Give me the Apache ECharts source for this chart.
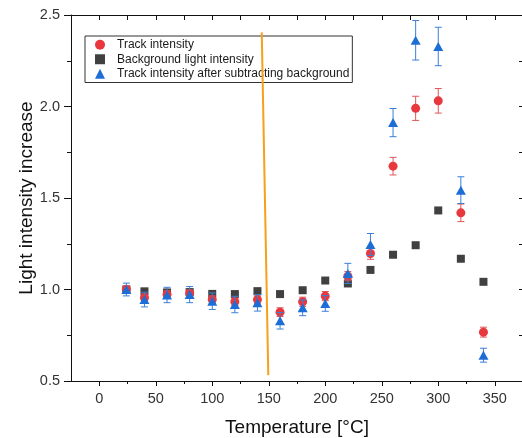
<!DOCTYPE html>
<html>
<head>
<meta charset="utf-8">
<script src="https://cdn.jsdelivr.net/npm/echarts@6/dist/echarts.min.js"></script>
<style>
html,body{margin:0;padding:0;background:#fff;}
#chart{width:522px;height:438px;}
</style>
</head>
<body>
<div id="chart"></div>
<script>
// ---- data ----
var temps = [24, 40, 60, 80, 100, 120, 140, 160, 180, 200, 220, 240, 260, 280, 300, 320, 340];
var trackIntensity = [1.00, 0.955, 0.973, 0.978, 0.945, 0.933, 0.945, 0.876, 0.933, 0.964, 1.073, 1.197, 1.674, 1.99, 2.031, 1.419, 0.767];
var trackErr = [0.02, 0.02, 0.02, 0.02, 0.02, 0.02, 0.02, 0.024, 0.025, 0.025, 0.025, 0.032, 0.048, 0.066, 0.067, 0.048, 0.027];
var backgroundIntensity = [1.00, 0.99, 0.984, 0.986, 0.976, 0.975, 0.991, 0.975, 0.996, 1.049, 1.033, 1.107, 1.19, 1.242, 1.432, 1.168, 1.042];
var backgroundErr = [0.008, 0.008, 0.008, 0.008, 0.008, 0.008, 0.008, 0.008, 0.008, 0.008, 0.008, 0.008, 0.008, 0.008, 0.013, 0.008, 0.008];
var subtractedIntensity = [1.00, 0.945, 0.97, 0.972, 0.936, 0.918, 0.927, 0.829, 0.90, 0.924, 1.088, 1.246, 1.912, 2.362, 2.328, 1.543, 0.641];
var subtractedErr = [0.035, 0.04, 0.042, 0.044, 0.045, 0.045, 0.045, 0.045, 0.043, 0.043, 0.055, 0.06, 0.077, 0.108, 0.105, 0.073, 0.038];
var markerLineX = [143.8, 149.6];
var markerLineY = [2.405, 0.532];
var xMajorTicks = [0, 50, 100, 150, 200, 250, 300, 350];
var xMinorTicks = [25, 75, 125, 175, 225, 275, 325];
var seriesNames = ['Track intensity', 'Background light intensity', 'Track intensity after subtracting background'];
var xTitle = 'Temperature [°C]';
var yTitle = 'Light intensity increase';

var FONT = '"Liberation Sans", Arial, sans-serif';
var RED = '#e8383d', BLACK = '#404040', BLUE = '#1c6ed6';

function pts(vals) { return temps.map(function (t, i) { return [t, vals[i]]; }); }
function errData(vals, errs) { return temps.map(function (t, i) { return [t, vals[i] - errs[i], vals[i] + errs[i]]; }); }

function errorBarSeries(vals, errs, color, z) {
  return {
    type: 'custom',
    xAxisIndex: 0, yAxisIndex: 0,
    z: z,
    silent: true,
    data: errData(vals, errs),
    encode: { x: 0, y: [1, 2] },
    renderItem: function (params, api) {
      var lo = api.coord([api.value(0), api.value(1)]);
      var hi = api.coord([api.value(0), api.value(2)]);
      var hw = 3.5;
      var st = { stroke: color, lineWidth: 1 };
      return {
        type: 'group',
        children: [
          { type: 'line', shape: { x1: lo[0], y1: lo[1], x2: hi[0], y2: hi[1] }, style: st },
          { type: 'line', shape: { x1: lo[0] - hw, y1: lo[1], x2: lo[0] + hw, y2: lo[1] }, style: st },
          { type: 'line', shape: { x1: hi[0] - hw, y1: hi[1], x2: hi[0] + hw, y2: hi[1] }, style: st }
        ]
      };
    }
  };
}

var chart = echarts.init(document.getElementById('chart'), null, { renderer: 'canvas' });
var option = {
  animation: false,
  backgroundColor: '#fff',
  grid: { left: 71, right: -1, top: 15, bottom: 57, containLabel: false, outerBoundsMode: 'none' },
  legend: {
    orient: 'vertical',
    left: 85, top: 36,
    padding: [2, 3, 2, 10],
    itemWidth: 10, itemHeight: 10, itemGap: 1,
    borderColor: '#333', borderWidth: 1, borderRadius: 0,
    textStyle: { fontFamily: FONT, fontSize: 12, color: '#1a1a1a', lineHeight: 13.5, padding: [0, 0, 0, 7] },
    data: [
      { name: seriesNames[0], icon: 'circle' },
      { name: seriesNames[1], icon: 'rect' },
      { name: seriesNames[2], icon: 'triangle' }
    ]
  },
  xAxis: [
    {
      type: 'value', position: 'bottom', min: -25, max: 375, interval: 25,
      name: xTitle, nameLocation: 'middle', nameGap: 37, nameMoveOverlap: false,
      nameTextStyle: { fontFamily: FONT, fontSize: 19, color: '#111' },
      axisLine: { show: true, onZero: false, lineStyle: { color: '#111', width: 1 } },
      axisTick: { show: true, length: 5, customValues: xMajorTicks, lineStyle: { color: '#111' } },
      axisLabel: { show: true, customValues: xMajorTicks, margin: 10, fontFamily: FONT, fontSize: 14.5, color: '#333' },
      splitLine: { show: false }
    },
    {
      type: 'value', position: 'bottom', min: -25, max: 375, interval: 25,
      axisLine: { show: false, onZero: false },
      axisTick: { show: true, length: 3, customValues: xMinorTicks, lineStyle: { color: '#111' } },
      axisLabel: { show: false },
      splitLine: { show: false }
    },
    {
      type: 'value', position: 'top', min: -25, max: 375, interval: 25,
      axisLine: { show: true, onZero: false, lineStyle: { color: '#111', width: 1 } },
      axisTick: { show: true, inside: true, length: 5, lineStyle: { color: '#111' } },
      axisLabel: { show: false },
      splitLine: { show: false }
    }
  ],
  yAxis: [
    {
      type: 'value', position: 'left', min: 0.5, max: 2.5, interval: 0.5,
      name: yTitle, nameLocation: 'middle', nameGap: 35, nameRotate: 90, nameMoveOverlap: false,
      nameTextStyle: { fontFamily: FONT, fontSize: 19, color: '#111' },
      axisLine: { show: true, onZero: false, lineStyle: { color: '#111', width: 1 } },
      axisTick: { show: true, length: 7, lineStyle: { color: '#111' } },
      minorTick: { show: true, splitNumber: 2, length: 4, lineStyle: { color: '#111' } },
      axisLabel: { margin: 11, fontFamily: FONT, fontSize: 14.5, color: '#333',
        formatter: function (v) { return v.toFixed(1); } },
      splitLine: { show: false }
    },
    {
      type: 'value', position: 'right', min: 0.5, max: 2.5, interval: 0.25,
      axisLine: { show: true, onZero: false, lineStyle: { color: '#111', width: 1 } },
      axisTick: { show: true, inside: true, length: 4, lineStyle: { color: '#111' } },
      axisLabel: { show: false },
      splitLine: { show: false }
    }
  ],
  series: [
    errorBarSeries(backgroundIntensity, backgroundErr, BLACK, 2),
    {
      name: seriesNames[1], type: 'scatter', xAxisIndex: 0, yAxisIndex: 0, z: 3,
      symbol: 'rect', symbolSize: 8, itemStyle: { color: BLACK, opacity: 1 },
      data: pts(backgroundIntensity)
    },
    errorBarSeries(trackIntensity, trackErr, '#e0555a', 4),
    {
      name: seriesNames[0], type: 'scatter', xAxisIndex: 0, yAxisIndex: 0, z: 5,
      symbol: 'circle', symbolSize: 9, itemStyle: { color: RED, opacity: 1 },
      data: pts(trackIntensity)
    },
    errorBarSeries(subtractedIntensity, subtractedErr, '#3b7fd8', 6),
    {
      name: seriesNames[2], type: 'scatter', xAxisIndex: 0, yAxisIndex: 0, z: 7,
      symbol: 'triangle', symbolSize: [10, 9], itemStyle: { color: BLUE, opacity: 1 },
      data: pts(subtractedIntensity)
    },
    {
      type: 'line', xAxisIndex: 0, yAxisIndex: 0, z: 8, silent: true,
      symbol: 'none', lineStyle: { color: '#f7a01c', width: 2 },
      data: markerLineX.map(function (x, i) { return [x, markerLineY[i]]; })
    }
  ]
};
chart.setOption(option);
</script>
</body>
</html>
